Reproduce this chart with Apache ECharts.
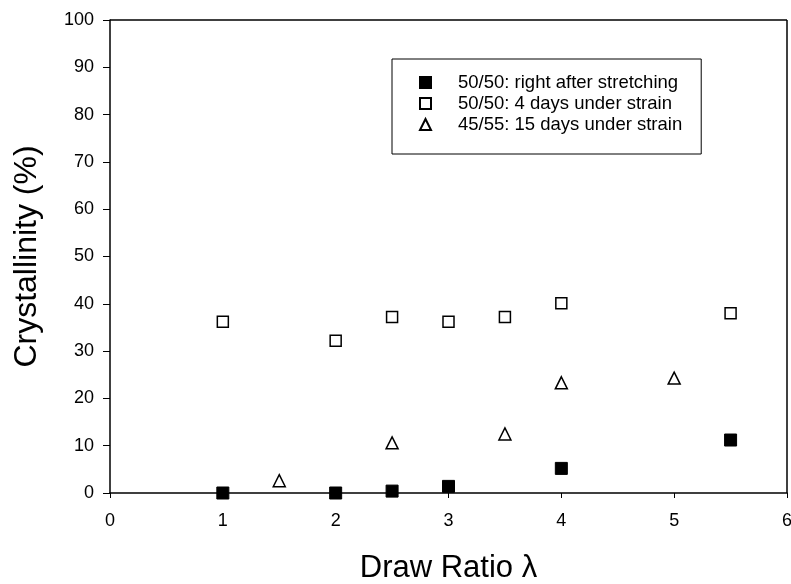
<!DOCTYPE html>
<html>
<head>
<meta charset="utf-8">
<script src="https://cdn.jsdelivr.net/npm/echarts@6/dist/echarts.min.js"></script>
<style>
  html, body { margin: 0; padding: 0; background: #fff; }
  #chart { width: 791px; height: 584px; }
</style>
</head>
<body>
<div id="chart"></div>
<script>
  // data
  const rightAfter = [[1, 0], [2, 0], [2.5, 0.4], [3, 1.4], [4, 5.2], [5.5, 11.2]];
  const fourDays = [[1, 36.2], [2, 32.2], [2.5, 37.2], [3, 36.2], [3.5, 37.2], [4, 40.1], [5.5, 38]];
  const fifteenDays = [[1.5, 2.6], [2.5, 10.6], [3.5, 12.5], [4, 23.3], [5, 24.3]];
  const seriesNames = ['50/50: right after stretching', '50/50: 4 days under strain', '45/55: 15 days under strain'];

  const chart = echarts.init(document.getElementById('chart'));
  const font = 'Liberation Sans, Arial, sans-serif';

  chart.setOption({
    animation: false,
    backgroundColor: '#fff',
    grid: { left: 110, right: 4, top: 20, bottom: 91, outerBoundsMode: 'none' },
    legend: {
      orient: 'vertical',
      left: 392,
      top: 59,
      padding: [14, 19, 20, 27],
      itemGap: 2,
      itemWidth: 11,
      itemHeight: 11,
      borderColor: '#000',
      borderWidth: 1,
      textStyle: { fontFamily: font, fontSize: 18.5, color: '#000', padding: [0, 0, 0, 22] },
      data: seriesNames
    },
    xAxis: {
      type: 'value',
      min: 0, max: 6, interval: 1,
      name: 'Draw Ratio λ',
      nameLocation: 'middle',
      nameGap: 60,
      nameTextStyle: { fontFamily: font, fontSize: 31, color: '#000' },
      axisLine: { show: true, lineStyle: { color: '#000', width: 1.5 } },
      axisTick: { show: true, inside: false, length: 5, lineStyle: { color: '#000' } },
      axisLabel: { fontFamily: font, fontSize: 18, color: '#000', margin: 19 },
      splitLine: { show: false }
    },
    yAxis: {
      type: 'value',
      min: 0, max: 100, interval: 10,
      name: 'Crystallinity (%)',
      nameLocation: 'middle',
      nameGap: 67,
      nameTextStyle: { fontFamily: font, fontSize: 32, color: '#000' },
      axisLine: { show: true, lineStyle: { color: '#000', width: 1.5 } },
      axisTick: { show: true, inside: false, length: 7, lineStyle: { color: '#000' } },
      axisLabel: { fontFamily: font, fontSize: 18, color: '#000', margin: 16 },
      splitLine: { show: false }
    },
    series: [
      {
        name: seriesNames[0], type: 'scatter', symbol: 'rect', symbolSize: 12,
        itemStyle: { color: '#000', borderColor: '#000', borderWidth: 1, opacity: 1 },
        data: rightAfter
      },
      {
        name: seriesNames[1], type: 'scatter', symbol: 'rect', symbolSize: 11,
        itemStyle: { color: '#fff', borderColor: '#000', borderWidth: 1.5, opacity: 1 },
        data: fourDays
      },
      {
        name: seriesNames[2], type: 'scatter', symbol: 'triangle', symbolSize: 12,
        itemStyle: { color: '#fff', borderColor: '#000', borderWidth: 1.5, opacity: 1 },
        data: fifteenDays
      }
    ],
    graphic: [
      { type: 'line', shape: { x1: 110, y1: 20, x2: 787, y2: 20 }, style: { stroke: '#000', lineWidth: 1.5 } },
      { type: 'line', shape: { x1: 787, y1: 20, x2: 787, y2: 493 }, style: { stroke: '#000', lineWidth: 1.5 } }
    ]
  });
</script>
</body>
</html>
